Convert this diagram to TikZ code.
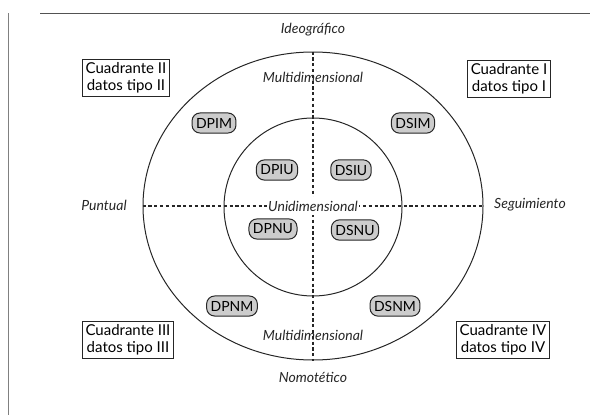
\documentclass[tikz,border=0pt]{standalone}
\usepackage{fontspec}
\setmainfont{Lato}
\usepackage{xcolor}
\usetikzlibrary{shapes.geometric}
\definecolor{pillgray}{rgb}{0.80,0.80,0.80}
\definecolor{inkgray}{rgb}{0.15,0.15,0.15}

\begin{document}
\begin{tikzpicture}[x=1pt,y=-1pt]
    \tikzstyle{pill}=[draw=inkgray,fill=pillgray,line width=1pt,rounded corners=8pt,inner xsep=4pt,inner ysep=5pt,font=\fontsize{14}{14}\selectfont]
    \tikzstyle{quadrant}=[draw=inkgray,line width=1pt,align=center,inner xsep=3pt,inner ysep=3pt,font=\fontsize{15}{16.5}\selectfont]
    \tikzstyle{axislabel}=[font=\fontsize{14}{14}\selectfont\itshape,text=inkgray]
    \tikzstyle{axis}=[line width=1.2pt,draw=inkgray,dash pattern=on 3.2pt off 2.6pt]

    \useasboundingbox (0,0) rectangle (604,415);

    % frame lines
    \draw [gray,line width=1pt] (8,13) -- (8,415);
    \draw [inkgray!80,line width=1pt] (40,13) -- (590,13);

    % the two rings
    \node[ellipse,draw=inkgray,line width=1pt,minimum width=340pt,minimum height=308pt,inner sep=0pt] (outer) at (313,206) {};
    \node[ellipse,draw=inkgray,line width=1pt,minimum width=178pt,minimum height=178pt,inner sep=0pt] (inner) at (313,207) {};

    % axes
    \draw [axis] (outer.west) -- (outer.east);
    \draw [axis] (outer.north) -- (outer.south);

    \node[axislabel] (ideo) at (313,30) {Ideográfico};
    \node[axislabel] (nomo) at (313,377) {Nomotético};
    \node[axislabel] (punt) at (104,205) {Puntual};
    \node[axislabel] (segu) at (530,205) {Seguimiento};
    \node[axislabel] (multitop) at (313,77) {Multidimensional};
    \node[axislabel] (multibot) at (313,335) {Multidimensional};
    \node[axislabel,fill=white,inner xsep=1pt] (uni) at (313,206) {Unidimensional};

    % data types
    \node[pill] (dpim) at (214,123) {DPIM};
    \node[pill] (dsim) at (413,123) {DSIM};
    \node[pill] (dpiu) at (277,170) {DPIU};
    \node[pill] (dsiu) at (351,170) {DSIU};
    \node[pill] (dpnu) at (273,229) {DPNU};
    \node[pill] (dsnu) at (355,230) {DSNU};
    \node[pill] (dpnm) at (232,306) {DPNM};
    \node[pill] (dsnm) at (395,306) {DSNM};

    % quadrants
    \node[quadrant] (q2) at (126,78) {Cuadrante II\\datos tipo II};
    \node[quadrant] (q1) at (509,79) {Cuadrante I\\datos tipo I};
    \node[quadrant] (q3) at (128,340) {Cuadrante III\\datos tipo III};
    \node[quadrant] (q4) at (503,340) {Cuadrante IV\\datos tipo IV};
\end{tikzpicture}
\end{document}
